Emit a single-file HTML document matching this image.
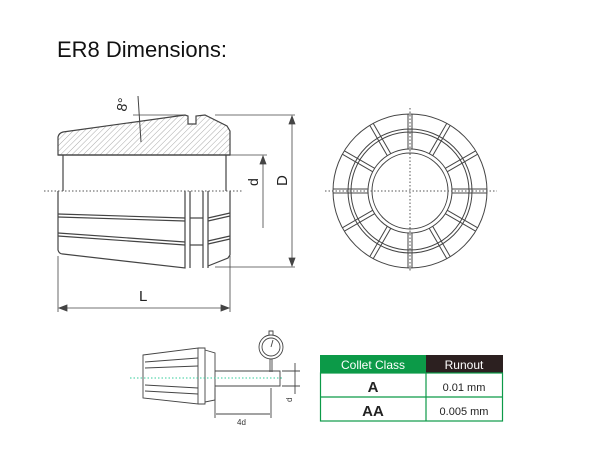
<!DOCTYPE html>
<html><head><style>
html,body{margin:0;padding:0;background:#fff;width:600px;height:474px;overflow:hidden}
svg{display:block}
</style></head><body>
<svg width="600" height="474" viewBox="0 0 600 474" xmlns="http://www.w3.org/2000/svg" font-family="Liberation Sans, sans-serif">
<defs>
<pattern id="h" width="4" height="4" patternUnits="userSpaceOnUse" patternTransform="rotate(45)">
<line x1="0" y1="0" x2="0" y2="4" stroke="#aaa" stroke-width="1"/>
</pattern>
</defs>
<text x="57" y="57" font-size="22" fill="#111">ER8 Dimensions:</text>

<!-- main side view -->
<g stroke="#444" stroke-width="1.2" fill="none">
<path d="M58,155 L58,137 Q59,133 63,132 L185,115 L188,116 L188,124 L196,124 L196,116 L205,115 L227,126 L230,131 L230,155 Z" fill="url(#h)"/>
<line x1="58" y1="155" x2="230" y2="155"/>
<line x1="63" y1="155" x2="63" y2="191"/>
<line x1="226" y1="155" x2="226" y2="191"/>
<path d="M58,191 L58,250 Q59,254 63,254 L185,268 L185,191"/>
<path d="M190,268 L190,191 M203,268 L203,191 M208,268 L208,191"/>
<path d="M208,266 L228,258 L230,255 L230,191"/>
<path d="M58,214 L185,218 M58,217 L185,221 M58,233 L185,242 M58,236 L185,245"/>
<path d="M208,218 L230,213 M208,221 L230,216 M208,241 L230,236 M208,244 L230,239"/>
<line x1="190" y1="245" x2="203" y2="245"/><line x1="190" y1="218" x2="203" y2="218"/>
</g>
<line x1="44" y1="191" x2="242" y2="191" stroke="#555" stroke-dasharray="1.5,2"/>
<!-- 8 deg -->
<line x1="138" y1="96" x2="141" y2="142" stroke="#444"/>
<line x1="133" y1="115" x2="185" y2="115" stroke="#444" stroke-width="0.7"/>
<text x="0" y="0" font-size="14" fill="#222" transform="translate(126,112) rotate(-80)">8°</text>
<!-- dims -->
<g stroke="#444" stroke-width="0.8" fill="#444">
<line x1="230" y1="155" x2="267" y2="155"/>
<line x1="263" y1="157" x2="263" y2="228"/>
<path d="M263,156 l-3,8 h6 z"/>
<line x1="215" y1="115" x2="295" y2="115"/>
<line x1="215" y1="267" x2="295" y2="267"/>
<line x1="292" y1="116" x2="292" y2="266"/>
<path d="M292,116 l-3,8 h6 z M292,266 l-3,-8 h6 z"/>
<line x1="58" y1="256" x2="58" y2="312"/>
<line x1="230" y1="256" x2="230" y2="312"/>
<line x1="59" y1="308" x2="229" y2="308"/>
<path d="M59,308 l8,-3 v6 z M229,308 l-8,-3 v6 z"/>
</g>
<text transform="translate(258,186) rotate(-90)" font-size="14" fill="#222">d</text>
<text transform="translate(287,186) rotate(-90)" font-size="15" fill="#222">D</text>
<text x="139" y="301" font-size="15" fill="#222">L</text>

<!-- end view -->
<g stroke="#444" stroke-width="1" fill="none">
<circle cx="410" cy="191" r="77"/>
<circle cx="410" cy="191" r="62"/>
<circle cx="410" cy="191" r="59"/>
<circle cx="410" cy="191" r="42"/>
<circle cx="410" cy="191" r="38"/>
<g id="s">
<line x1="412" y1="149" x2="412" y2="114"/>
<line x1="408" y1="149" x2="408" y2="114"/>
</g>
<use href="#s" transform="rotate(30 410 191)"/>
<use href="#s" transform="rotate(60 410 191)"/>
<use href="#s" transform="rotate(120 410 191)"/>
<use href="#s" transform="rotate(150 410 191)"/>
<use href="#s" transform="rotate(210 410 191)"/>
<use href="#s" transform="rotate(240 410 191)"/>
<use href="#s" transform="rotate(300 410 191)"/>
<use href="#s" transform="rotate(330 410 191)"/>
<use href="#s"/>
<use href="#s" transform="rotate(90 410 191)"/>
<use href="#s" transform="rotate(180 410 191)"/>
<use href="#s" transform="rotate(270 410 191)"/>
</g>
<g stroke="#555" stroke-dasharray="1.5,2">
<line x1="325" y1="191" x2="497" y2="191"/>
<line x1="410" y1="108" x2="410" y2="272"/>
</g>

<!-- small runout diagram -->
<g stroke="#444" stroke-width="0.9" fill="none">
<path d="M143,355 L198,348 L198,404 L143,398 Z"/>
<path d="M198,348 L205,348 L205,404 L198,404"/>
<path d="M205,350 L215,353 L215,400 L205,402"/>
<path d="M145,362 L198,358 M145,368 L198,366 M145,385 L198,388 M145,391 L198,394"/>
<path d="M215,371 L280,371 L280,386 L215,386"/>
<circle cx="271" cy="347" r="12"/>
<circle cx="271" cy="347" r="9"/>
<line x1="271" y1="347" x2="273" y2="340"/>
<path d="M269,335 V331 H273 V335 M270,359 V372 M272,359 V372"/>
<line x1="215" y1="388" x2="215" y2="418"/>
<line x1="271" y1="388" x2="271" y2="418"/>
<line x1="216" y1="414" x2="270" y2="414"/>
<line x1="282" y1="371" x2="300" y2="371"/>
<line x1="282" y1="386" x2="300" y2="386"/>
<line x1="295" y1="363" x2="295" y2="394"/>
</g>
<line x1="130" y1="378" x2="282" y2="378" stroke="#3c9" stroke-dasharray="1.5,2"/>
<text x="237" y="425" font-size="8" fill="#333">4d</text>
<text transform="translate(292,402) rotate(-90)" font-size="8" fill="#333">d</text>

<!-- table -->
<rect x="320" y="355" width="106" height="18" fill="#0c9a48"/>
<rect x="426" y="355" width="77" height="18" fill="#2c2020"/>
<text x="373" y="369" font-size="12" fill="#fff" text-anchor="middle" font-family="Liberation Sans Narrow, Liberation Sans, sans-serif">Collet Class</text>
<text x="464" y="369" font-size="12" fill="#fff" text-anchor="middle" font-family="Liberation Sans Narrow, Liberation Sans, sans-serif">Runout</text>
<g stroke="#0c9a48" stroke-width="1.2" fill="none">
<rect x="320.5" y="373" width="182" height="48"/>
<line x1="320" y1="397" x2="503" y2="397"/>
<line x1="426" y1="373" x2="426" y2="421"/>
</g>
<text x="373" y="392" font-size="15" font-weight="bold" fill="#222" text-anchor="middle">A</text>
<text x="373" y="416" font-size="15" font-weight="bold" fill="#222" text-anchor="middle">AA</text>
<text x="464" y="391" font-size="11" fill="#222" text-anchor="middle">0.01 mm</text>
<text x="464" y="415" font-size="11" fill="#222" text-anchor="middle">0.005 mm</text>
</svg>
</body></html>
